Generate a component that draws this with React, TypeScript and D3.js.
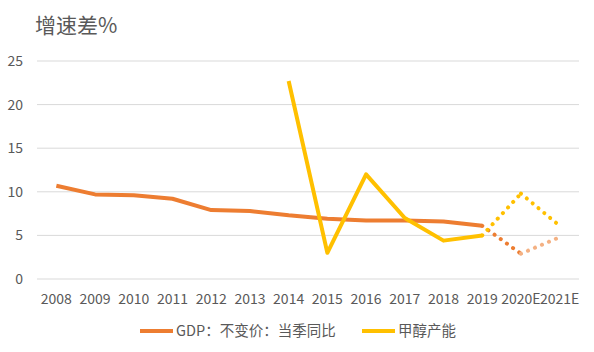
import React, { useEffect, useRef } from "react";
import * as d3 from "d3";

const years = ["2008", "2009", "2010", "2011", "2012", "2013", "2014", "2015", "2016", "2017", "2018", "2019", "2020E", "2021E"];
const gdp = [10.7, 9.7, 9.6, 9.2, 7.9, 7.8, 7.3, 6.9, 6.7, 6.7, 6.6, 6.1, 2.9, 4.8];
const methanol = [null, null, null, null, null, null, 22.7, 3.0, 12.0, 7.0, 4.4, 5.0, 9.8, 6.1];
const yTicks = [0, 5, 10, 15, 20, 25];
const forecastFrom = 11; // index of 2019, last actual point

const W = 594;
const H = 352;
const font = "'Microsoft YaHei', 'Noto Sans CJK SC', sans-serif";

export default function App() {
  const ref = useRef<SVGSVGElement>(null);

  useEffect(() => {
    const svg = d3.select(ref.current);
    svg.selectAll("*").remove();

    const x = d3.scaleBand().domain(years).range([37, 579]);
    const y = d3.scaleLinear().domain([0, 25]).range([279, 61]);
    const cx = (d: string) => (x(d) as number) + x.bandwidth() / 2;

    svg.append("rect").attr("width", W).attr("height", H).attr("fill", "#fff");

    svg.append("text")
      .attr("x", 35).attr("y", 33)
      .attr("fill", "#595959").style("font-size", "21px").style("font-family", font)
      .text("增速差%");

    const grid = svg.append("g");
    grid.selectAll("line").data(yTicks).enter().append("line")
      .attr("x1", 37).attr("x2", 579)
      .attr("y1", d => y(d)).attr("y2", d => y(d))
      .attr("stroke", "#d9d9d9").attr("stroke-width", 1);

    grid.selectAll("text").data(yTicks).enter().append("text")
      .attr("x", 23).attr("y", d => y(d) + 5)
      .attr("text-anchor", "end")
      .attr("fill", "#595959").style("font-size", "14px").style("font-family", font)
      .text(d => d);

    svg.append("g").selectAll("text").data(years).enter().append("text")
      .attr("x", d => cx(d)).attr("y", 304)
      .attr("text-anchor", "middle")
      .attr("fill", "#595959").style("font-size", "14px").style("font-family", font)
      .text(d => d);

    const line = d3.line<[number, number]>().x(d => d[0]).y(d => d[1]);

    const drawSeries = (vals: (number | null)[], color: string, lastColor: string) => {
      const pts = vals.map((v, i) => (v == null ? null : [cx(years[i]), y(v)] as [number, number]));
      const solid = pts.slice(0, forecastFrom + 1).filter(p => p) as [number, number][];
      svg.append("path").attr("d", line(solid))
        .attr("fill", "none").attr("stroke", color).attr("stroke-width", 4)
        .attr("stroke-linejoin", "round");
      const segs: [[number, number][], string][] = [
        [[pts[forecastFrom]!, pts[forecastFrom + 1]!], color],
        [[pts[forecastFrom + 1]!, pts[forecastFrom + 2]!], lastColor],
      ];
      segs.forEach(([s, c]) => {
        svg.append("path").attr("d", line(s))
          .attr("fill", "none").attr("stroke", c).attr("stroke-width", 4)
          .attr("stroke-linecap", "round").attr("stroke-dasharray", "0.1 7.5");
      });
    };

    drawSeries(gdp, "#ED7D31", "#F4B183");
    drawSeries(methanol, "#FFC000", "#FFC000");

    const legend = [
      { label: "GDP：不变价：当季同比", color: "#ED7D31", x: 140 },
      { label: "甲醇产能", color: "#FFC000", x: 362 },
    ];
    const lg = svg.append("g").selectAll("g").data(legend).enter().append("g");
    lg.append("line")
      .attr("x1", d => d.x).attr("x2", d => d.x + 33)
      .attr("y1", 331).attr("y2", 331)
      .attr("stroke", d => d.color).attr("stroke-width", 4);
    lg.append("text")
      .attr("x", d => d.x + 36).attr("y", 336)
      .attr("fill", "#595959").style("font-size", "14.5px").style("font-family", font)
      .text(d => d.label);
  }, []);

  return <svg ref={ref} width={W} height={H} style={{ position: "absolute", left: 0, top: 0 }} />;
}
